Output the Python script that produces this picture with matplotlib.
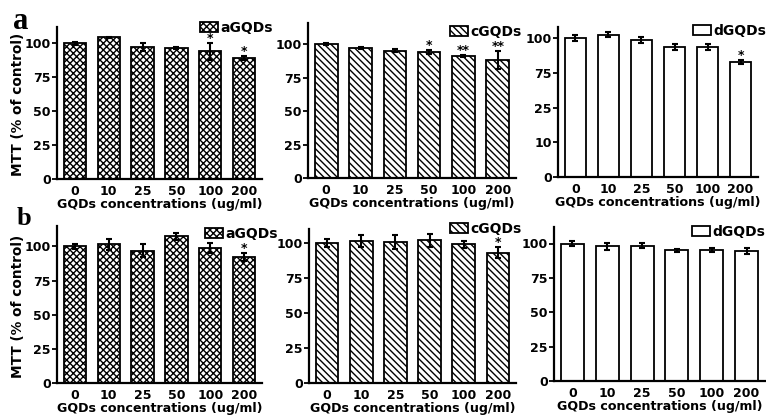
import matplotlib
matplotlib.use("Agg")
import matplotlib.pyplot as plt
import numpy as np

# ---------------- data ----------------
concentrations = ['0', '10', '25', '50', '100', '200']

a_aGQDs = [100, 104.5, 97.5, 96.5, 94, 89]
a_aGQDs_err = [1, 0.5, 3, 0.5, 6, 1.5]
a_aGQDs_sig = ['', '', '', '', '*', '*']

a_cGQDs = [100, 97, 95, 94, 91, 88]
a_cGQDs_err = [0.5, 1, 1, 1.5, 0.5, 7]
a_cGQDs_sig = ['', '', '', '*', '**', '**']

a_dGQDs = [100, 102.5, 98.5, 93.5, 93.5, 83]
a_dGQDs_err = [2, 2, 2, 2, 2, 1.5]
a_dGQDs_sig = ['', '', '', '', '', '*']

b_aGQDs = [100, 101.5, 97, 107.5, 99, 92.5]
b_aGQDs_err = [1.5, 4, 4.5, 2.5, 3.5, 3]
b_aGQDs_sig = ['', '', '', '', '', '*']

b_cGQDs = [100, 101.5, 100.5, 102, 99, 93]
b_cGQDs_err = [3, 4, 5, 4.5, 2.5, 4]
b_cGQDs_sig = ['', '', '', '', '', '*']

b_dGQDs = [100, 98, 98.5, 95, 95, 94.5]
b_dGQDs_err = [1.5, 2.5, 2, 1, 1.5, 2]
b_dGQDs_sig = ['', '', '', '', '', '']

ytick_values = [0, 25, 50, 75, 100]
ytick_labels = ['0', '25', '50', '75', '100']
ytick_labels_a_d = ['0', '10', '25', '75', '100']

# ---------------- style ----------------
plt.rcParams['font.family'] = ['DejaVu Sans']
plt.rcParams['font.weight'] = 'bold'
plt.rcParams['hatch.linewidth'] = 1.0

W, H = 766, 417
fig = plt.figure(figsize=(W / 100, H / 100), dpi=100)


def px_axes(left, right, top, bottom):
    return fig.add_axes([left / W, (H - bottom) / H, (right - left) / W, (bottom - top) / H])


panels = [
    # (values, err, sig, name, hatch, ytop, yticklabels, axes px, legend px, ylabel)
    (a_aGQDs, a_aGQDs_err, a_aGQDs_sig, 'aGQDs', 'xxxxx', 112, ytick_labels, (57, 262, 27, 179), (200, 21), True),
    (a_cGQDs, a_cGQDs_err, a_cGQDs_sig, 'cGQDs', '\\\\\\\\\\', 115.7, ytick_labels, (308, 516, 23, 178), (450, 25), False),
    (a_dGQDs, a_dGQDs_err, a_dGQDs_sig, 'dGQDs', None, 108, ytick_labels_a_d, (558, 758, 27, 177), (693, 24), False),
    (b_aGQDs, b_aGQDs_err, b_aGQDs_sig, 'aGQDs', 'xxxxx', 115, ytick_labels, (57, 262, 226, 383), (205, 227), True),
    (b_cGQDs, b_cGQDs_err, b_cGQDs_sig, 'cGQDs', '\\\\\\\\\\', 110, ytick_labels, (309, 516, 229, 383), (450, 222), False),
    (b_dGQDs, b_dGQDs_err, b_dGQDs_sig, 'dGQDs', None, 112, ytick_labels, (554, 765, 227, 381), (692, 225), False),
]

for vals, errs, sigs, name, hatch, ytop, ylabels, axpx, legpx, show_ylabel in panels:
    ax = px_axes(*axpx)
    x = np.arange(len(concentrations))
    ax.bar(x, vals, width=0.66, color='white', edgecolor='black', linewidth=1.3,
           hatch=hatch, label=name, zorder=2)
    ax.errorbar(x, vals, yerr=errs, fmt='none', ecolor='black', elinewidth=1.5,
                capsize=2.5, capthick=1.5, zorder=3)
    for xi, v, e, s in zip(x, vals, errs, sigs):
        if s:
            ax.annotate(s, (xi, v + e), xytext=(0, 0.8), textcoords='offset points',
                        ha='center', va='baseline', fontsize=9, fontweight='bold')
    ax.set_xlim(-0.53, len(concentrations) - 0.47)
    ax.set_ylim(0, ytop)
    ax.set_xticks(x)
    ax.set_xticklabels(concentrations, fontsize=9, fontweight='bold')
    ax.set_yticks(ytick_values)
    ax.set_yticklabels(ylabels, fontsize=9, fontweight='bold')
    ax.tick_params(axis='x', length=0, pad=4)
    ax.tick_params(axis='y', length=3.5, width=1.3, pad=1)
    for sp in ['top', 'right']:
        ax.spines[sp].set_visible(False)
    for sp in ['left', 'bottom']:
        ax.spines[sp].set_linewidth(1.6)
    ax.set_xlabel('GQDs concentrations (ug/ml)', fontsize=9.1, fontweight='bold', labelpad=0)
    if show_ylabel:
        ax.set_ylabel('MTT (% of control)', fontsize=9.8, fontweight='bold')
        ax.yaxis.set_label_coords(-0.155, 0.49)
    ax.legend(loc='upper left', bbox_to_anchor=(legpx[0] / W, 1 - legpx[1] / H),
              bbox_transform=fig.transFigure, frameon=False, borderpad=0,
              borderaxespad=0, handletextpad=0.15, handlelength=1.3,
              handleheight=0.65, prop={'size': 10, 'weight': 'bold'})

fig.text(13 / W, 1 - 29 / H, 'a', fontsize=22, fontweight='bold',
         family=['Liberation Serif'], ha='left', va='baseline')
fig.text(17 / W, 1 - 225 / H, 'b', fontsize=19, fontweight='bold',
         family=['Liberation Serif'], ha='left', va='baseline')

fig.savefig('out.png', dpi=100)
